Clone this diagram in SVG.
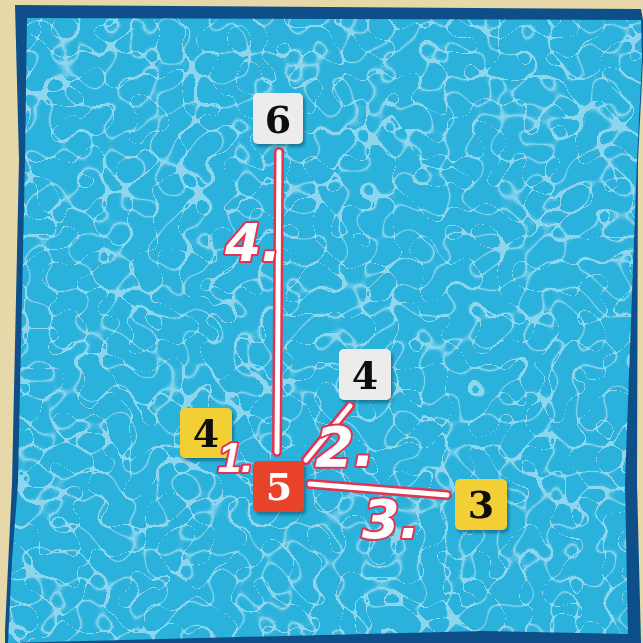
<svg xmlns="http://www.w3.org/2000/svg" width="643" height="643" viewBox="0 0 643 643">
  <defs>
    <style>
      .tile-num { font-family: "DejaVu Serif", "Liberation Serif", serif; font-weight: bold; font-size: 38px; text-anchor: middle; }
      .lbl { font-family: "DejaVu Sans", "Liberation Sans", sans-serif; font-style: italic; font-weight: bold; fill: #ffffff; stroke: #e3334f; stroke-width: 4; paint-order: stroke; stroke-linejoin: round; text-anchor: middle; }
      .lbl-narrow { font-family: "Liberation Sans", "DejaVu Sans", sans-serif; text-anchor: end; }
      .edge-out { fill: none; stroke: #e3334f; stroke-width: 10; stroke-linecap: round; }
      .edge-in { fill: none; stroke: #ffffff; stroke-width: 5; stroke-linecap: round; }
    </style>
    <filter id="caustic" x="0" y="0" width="643" height="643" filterUnits="userSpaceOnUse" color-interpolation-filters="sRGB">
      <feTurbulence type="turbulence" baseFrequency="0.038" numOctaves="1" seed="11" result="n"/>
      <feColorMatrix in="n" type="matrix" values="0 0 0 0 0  0 0 0 0 0  0 0 0 0 0  1 0 0 0 0" result="a"/>
      <feComponentTransfer in="a" result="m">
        <feFuncA type="table" tableValues="0.85 0.15 0 0 0 0 0 0 0 0 0 0 0 0 0 0 0 0 0 0 0 0 0 0 0"/>
      </feComponentTransfer>
      <feFlood flood-color="#ffffff" result="w"/>
      <feComposite in="w" in2="m" operator="in"/>
    </filter>
    <filter id="shadow" x="-20%" y="-20%" width="150%" height="150%">
      <feDropShadow dx="2" dy="3" stdDeviation="1.5" flood-color="#0a3550" flood-opacity="0.45"/>
    </filter>
    <clipPath id="waterClip">
      <path d="M27,18 L641,20 L642,60 L637,160 L625,483 L628,634 L483,631 L200,638 L8,643 L12,560 L18,483 L25,160 Z"/>
    </clipPath>
  </defs>

  <rect x="0" y="0" width="643" height="643" fill="#e6d8a8"/>
  <path d="M15,5 L641,9 L643,20 L643,60 L638,160 L637,483 L641,643 L5,643 L5,630 L12,483 L19,160 Z" fill="#0e4f8a"/>
  <g clip-path="url(#waterClip)">
    <rect x="0" y="0" width="643" height="643" fill="#2ab2dc"/>
    <rect x="0" y="0" width="643" height="643" fill="#ffffff" filter="url(#caustic)" opacity="0.55"/>
  </g>

  <g id="node-6" filter="url(#shadow)">
    <rect x="253" y="93" width="50" height="51" rx="5" fill="#ececea"/>
    <text class="tile-num" x="278" y="133" fill="#111111">6</text>
  </g>
  <g id="node-4-white" filter="url(#shadow)">
    <rect x="339" y="349" width="52" height="51" rx="5" fill="#ececea"/>
    <text class="tile-num" x="365" y="389" fill="#111111">4</text>
  </g>
  <g id="node-4-yellow" filter="url(#shadow)">
    <rect x="180" y="408" width="52" height="50" rx="5" fill="#f1cf36"/>
    <text class="tile-num" x="206" y="447" fill="#111111">4</text>
  </g>
  <g id="node-5" filter="url(#shadow)">
    <rect x="253" y="461" width="51" height="51" rx="5" fill="#e8422b"/>
    <text class="tile-num" x="279" y="500" fill="#ffffff">5</text>
  </g>
  <g id="node-3" filter="url(#shadow)">
    <rect x="455" y="479" width="52" height="51" rx="5" fill="#f1cf36"/>
    <text class="tile-num" x="481" y="518" fill="#111111">3</text>
  </g>

  <g id="connectors">
    <path class="edge-out" d="M279,152 L277,452"/>
    <path class="edge-in" d="M279,152 L277,452"/>
    <path class="edge-out" d="M306,460 L350,406"/>
    <path class="edge-in" d="M306,460 L350,406"/>
    <path class="edge-out" d="M310,484 L447,495"/>
    <path class="edge-in" d="M310,484 L447,495"/>
    <text class="lbl" x="253" y="261" font-size="52">4.</text>
    <text class="lbl lbl-narrow" x="253" y="472" font-size="42">1.</text>
    <text class="lbl" x="345" y="466" font-size="56">2.</text>
    <text class="lbl" x="391" y="538" font-size="54">3.</text>
  </g>
</svg>
